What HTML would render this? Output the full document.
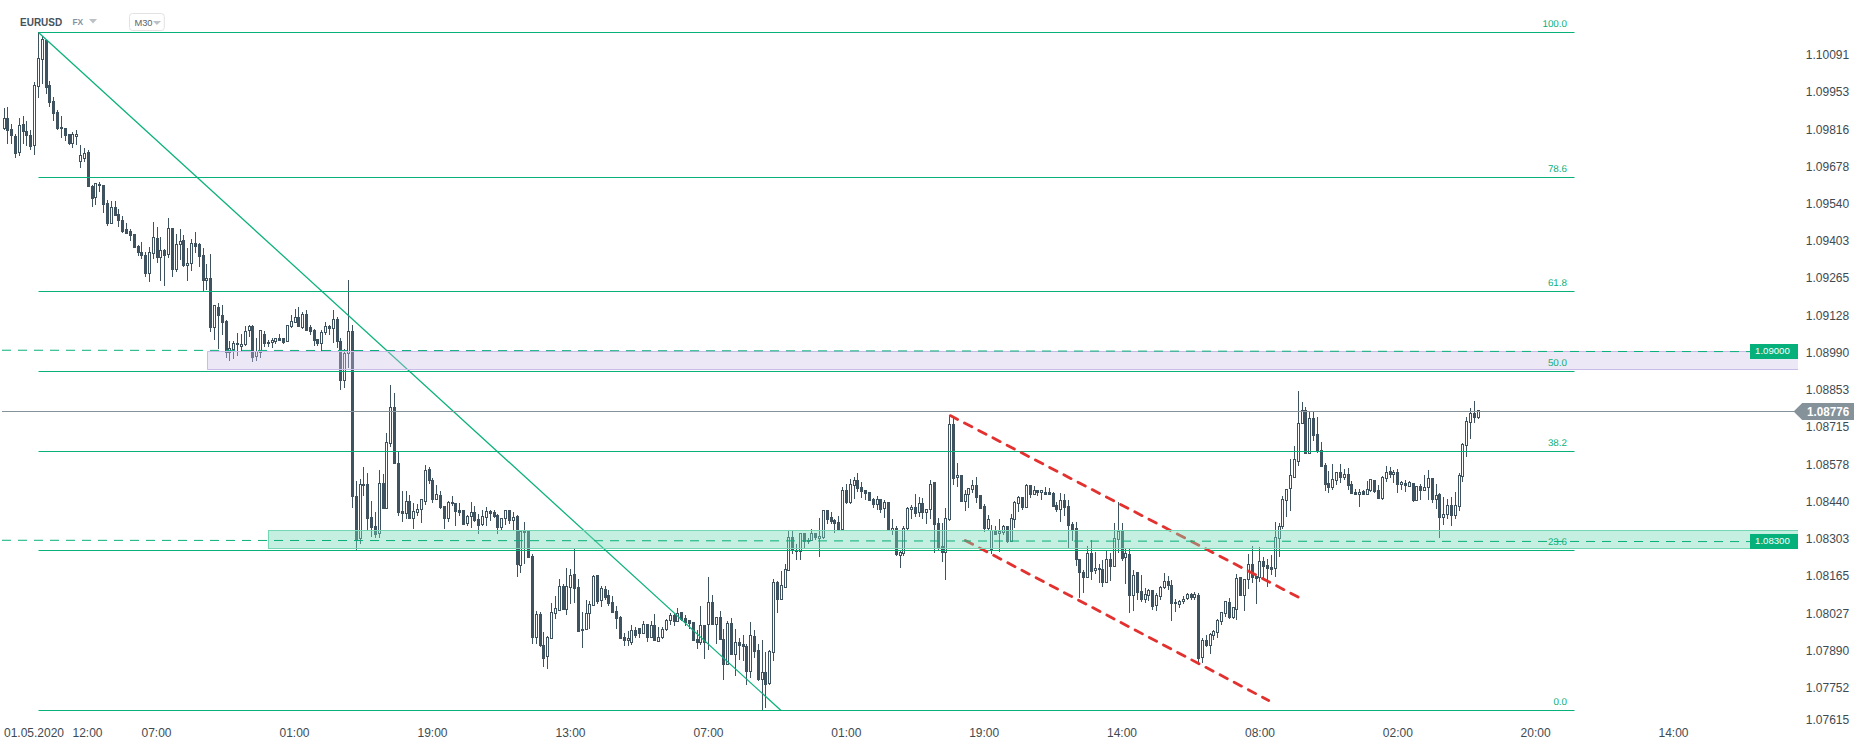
<!DOCTYPE html><html><head><meta charset="utf-8"><title>EURUSD M30</title>
<style>html,body{margin:0;padding:0;background:#fff;}body{width:1866px;height:750px;overflow:hidden;font-family:"Liberation Sans",sans-serif;}svg{display:block;}text{font-family:"Liberation Sans",sans-serif;}</style></head><body>
<svg width="1866" height="750" viewBox="0 0 1866 750">
<rect width="1866" height="750" fill="#fff"/>
<g fill="#3f525f" shape-rendering="crispEdges">
<rect x="4" y="108" width="1" height="22"/>
<rect x="3" y="118" width="3" height="11"/>
<rect x="7" y="107" width="1" height="37"/>
<rect x="6" y="118" width="3" height="13"/>
<rect x="11" y="124" width="1" height="20"/>
<rect x="10" y="129" width="3" height="7"/>
<rect x="15" y="134" width="1" height="24"/>
<rect x="14" y="136" width="3" height="18"/>
<rect x="19" y="118" width="1" height="38"/>
<rect x="18" y="125" width="3" height="28"/>
<rect x="23" y="116" width="1" height="28"/>
<rect x="22" y="124" width="3" height="8"/>
<rect x="26" y="121" width="1" height="25"/>
<rect x="25" y="131" width="3" height="5"/>
<rect x="30" y="130" width="1" height="20"/>
<rect x="29" y="135" width="3" height="12"/>
<rect x="34" y="82" width="1" height="73"/>
<rect x="33" y="85" width="3" height="61"/>
<rect x="38" y="32" width="1" height="66"/>
<rect x="37" y="58" width="3" height="29"/>
<rect x="42" y="36" width="1" height="48"/>
<rect x="41" y="39" width="3" height="21"/>
<rect x="46" y="40" width="1" height="54"/>
<rect x="45" y="40" width="3" height="48"/>
<rect x="49" y="81" width="1" height="26"/>
<rect x="48" y="85" width="3" height="18"/>
<rect x="53" y="97" width="1" height="24"/>
<rect x="52" y="101" width="3" height="13"/>
<rect x="57" y="110" width="1" height="20"/>
<rect x="56" y="112" width="3" height="17"/>
<rect x="61" y="116" width="1" height="22"/>
<rect x="60" y="127" width="3" height="2"/>
<rect x="65" y="128" width="1" height="13"/>
<rect x="64" y="128" width="3" height="8"/>
<rect x="69" y="134" width="1" height="11"/>
<rect x="68" y="134" width="3" height="10"/>
<rect x="72" y="132" width="1" height="16"/>
<rect x="71" y="134" width="3" height="10"/>
<rect x="76" y="130" width="1" height="15"/>
<rect x="75" y="134" width="3" height="3"/>
<rect x="80" y="145" width="1" height="23"/>
<rect x="79" y="155" width="3" height="7"/>
<rect x="84" y="148" width="1" height="14"/>
<rect x="83" y="153" width="3" height="6"/>
<rect x="88" y="150" width="1" height="37"/>
<rect x="87" y="152" width="3" height="35"/>
<rect x="92" y="185" width="1" height="22"/>
<rect x="91" y="186" width="3" height="13"/>
<rect x="95" y="183" width="1" height="22"/>
<rect x="94" y="183" width="3" height="15"/>
<rect x="99" y="182" width="1" height="10"/>
<rect x="98" y="184" width="3" height="2"/>
<rect x="103" y="185" width="1" height="28"/>
<rect x="102" y="185" width="3" height="20"/>
<rect x="107" y="200" width="1" height="26"/>
<rect x="106" y="203" width="3" height="21"/>
<rect x="111" y="201" width="1" height="23"/>
<rect x="110" y="207" width="3" height="17"/>
<rect x="115" y="201" width="1" height="15"/>
<rect x="114" y="207" width="3" height="9"/>
<rect x="118" y="209" width="1" height="18"/>
<rect x="117" y="214" width="3" height="7"/>
<rect x="122" y="216" width="1" height="17"/>
<rect x="121" y="220" width="3" height="12"/>
<rect x="126" y="223" width="1" height="11"/>
<rect x="125" y="229" width="3" height="5"/>
<rect x="130" y="229" width="1" height="12"/>
<rect x="129" y="231" width="3" height="5"/>
<rect x="134" y="234" width="1" height="14"/>
<rect x="133" y="234" width="3" height="14"/>
<rect x="138" y="245" width="1" height="11"/>
<rect x="137" y="246" width="3" height="7"/>
<rect x="141" y="242" width="1" height="17"/>
<rect x="140" y="252" width="3" height="4"/>
<rect x="145" y="252" width="1" height="25"/>
<rect x="144" y="255" width="3" height="19"/>
<rect x="149" y="247" width="1" height="35"/>
<rect x="148" y="252" width="3" height="22"/>
<rect x="153" y="222" width="1" height="37"/>
<rect x="152" y="237" width="3" height="17"/>
<rect x="157" y="227" width="1" height="36"/>
<rect x="156" y="238" width="3" height="20"/>
<rect x="160" y="237" width="1" height="44"/>
<rect x="159" y="250" width="3" height="8"/>
<rect x="164" y="249" width="1" height="37"/>
<rect x="163" y="250" width="3" height="6"/>
<rect x="168" y="218" width="1" height="40"/>
<rect x="167" y="228" width="3" height="27"/>
<rect x="172" y="228" width="1" height="49"/>
<rect x="171" y="228" width="3" height="42"/>
<rect x="176" y="234" width="1" height="38"/>
<rect x="175" y="244" width="3" height="26"/>
<rect x="180" y="229" width="1" height="31"/>
<rect x="179" y="241" width="3" height="4"/>
<rect x="183" y="235" width="1" height="32"/>
<rect x="182" y="240" width="3" height="26"/>
<rect x="187" y="248" width="1" height="33"/>
<rect x="186" y="263" width="3" height="3"/>
<rect x="191" y="239" width="1" height="32"/>
<rect x="190" y="243" width="3" height="21"/>
<rect x="195" y="232" width="1" height="21"/>
<rect x="194" y="243" width="3" height="4"/>
<rect x="199" y="243" width="1" height="24"/>
<rect x="198" y="244" width="3" height="13"/>
<rect x="203" y="248" width="1" height="43"/>
<rect x="202" y="255" width="3" height="26"/>
<rect x="206" y="264" width="1" height="26"/>
<rect x="205" y="278" width="3" height="3"/>
<rect x="210" y="254" width="1" height="78"/>
<rect x="209" y="278" width="3" height="50"/>
<rect x="214" y="305" width="1" height="35"/>
<rect x="213" y="305" width="3" height="23"/>
<rect x="218" y="303" width="1" height="46"/>
<rect x="217" y="307" width="3" height="9"/>
<rect x="222" y="305" width="1" height="30"/>
<rect x="221" y="315" width="3" height="8"/>
<rect x="226" y="320" width="1" height="38"/>
<rect x="225" y="321" width="3" height="32"/>
<rect x="229" y="341" width="1" height="20"/>
<rect x="228" y="348" width="3" height="5"/>
<rect x="233" y="341" width="1" height="18"/>
<rect x="232" y="343" width="3" height="7"/>
<rect x="237" y="333" width="1" height="23"/>
<rect x="236" y="343" width="3" height="2"/>
<rect x="241" y="334" width="1" height="17"/>
<rect x="240" y="344" width="3" height="3"/>
<rect x="245" y="326" width="1" height="20"/>
<rect x="244" y="331" width="3" height="14"/>
<rect x="249" y="325" width="1" height="12"/>
<rect x="248" y="326" width="3" height="5"/>
<rect x="252" y="325" width="1" height="37"/>
<rect x="251" y="326" width="3" height="32"/>
<rect x="256" y="338" width="1" height="23"/>
<rect x="255" y="351" width="3" height="6"/>
<rect x="260" y="330" width="1" height="28"/>
<rect x="259" y="330" width="3" height="23"/>
<rect x="264" y="331" width="1" height="16"/>
<rect x="263" y="334" width="3" height="10"/>
<rect x="268" y="340" width="1" height="7"/>
<rect x="267" y="342" width="3" height="2"/>
<rect x="272" y="338" width="1" height="10"/>
<rect x="271" y="340" width="3" height="3"/>
<rect x="275" y="338" width="1" height="6"/>
<rect x="274" y="338" width="3" height="4"/>
<rect x="279" y="334" width="1" height="7"/>
<rect x="278" y="338" width="3" height="3"/>
<rect x="283" y="338" width="1" height="6"/>
<rect x="282" y="338" width="3" height="5"/>
<rect x="287" y="325" width="1" height="17"/>
<rect x="286" y="325" width="3" height="17"/>
<rect x="291" y="315" width="1" height="13"/>
<rect x="290" y="321" width="3" height="6"/>
<rect x="295" y="309" width="1" height="14"/>
<rect x="294" y="317" width="3" height="6"/>
<rect x="298" y="307" width="1" height="20"/>
<rect x="297" y="317" width="3" height="10"/>
<rect x="302" y="312" width="1" height="17"/>
<rect x="301" y="314" width="3" height="14"/>
<rect x="306" y="310" width="1" height="21"/>
<rect x="305" y="314" width="3" height="17"/>
<rect x="310" y="325" width="1" height="10"/>
<rect x="309" y="327" width="3" height="5"/>
<rect x="314" y="329" width="1" height="17"/>
<rect x="313" y="330" width="3" height="11"/>
<rect x="317" y="339" width="1" height="7"/>
<rect x="316" y="339" width="3" height="5"/>
<rect x="321" y="330" width="1" height="21"/>
<rect x="320" y="332" width="3" height="12"/>
<rect x="325" y="322" width="1" height="13"/>
<rect x="324" y="326" width="3" height="7"/>
<rect x="329" y="325" width="1" height="10"/>
<rect x="328" y="326" width="3" height="3"/>
<rect x="333" y="310" width="1" height="33"/>
<rect x="332" y="319" width="3" height="10"/>
<rect x="337" y="317" width="1" height="31"/>
<rect x="336" y="319" width="3" height="23"/>
<rect x="340" y="338" width="1" height="52"/>
<rect x="339" y="341" width="3" height="40"/>
<rect x="344" y="349" width="1" height="39"/>
<rect x="343" y="353" width="3" height="28"/>
<rect x="348" y="280" width="1" height="88"/>
<rect x="347" y="331" width="3" height="23"/>
<rect x="352" y="325" width="1" height="183"/>
<rect x="351" y="331" width="3" height="166"/>
<rect x="356" y="481" width="1" height="69"/>
<rect x="355" y="496" width="3" height="44"/>
<rect x="360" y="479" width="1" height="65"/>
<rect x="359" y="484" width="3" height="55"/>
<rect x="363" y="467" width="1" height="29"/>
<rect x="362" y="484" width="3" height="2"/>
<rect x="367" y="473" width="1" height="58"/>
<rect x="366" y="484" width="3" height="35"/>
<rect x="371" y="501" width="1" height="36"/>
<rect x="370" y="517" width="3" height="11"/>
<rect x="375" y="512" width="1" height="26"/>
<rect x="374" y="526" width="3" height="9"/>
<rect x="379" y="470" width="1" height="68"/>
<rect x="378" y="483" width="3" height="51"/>
<rect x="383" y="474" width="1" height="35"/>
<rect x="382" y="483" width="3" height="26"/>
<rect x="386" y="433" width="1" height="76"/>
<rect x="385" y="442" width="3" height="67"/>
<rect x="390" y="385" width="1" height="62"/>
<rect x="389" y="407" width="3" height="37"/>
<rect x="394" y="393" width="1" height="71"/>
<rect x="393" y="407" width="3" height="57"/>
<rect x="398" y="452" width="1" height="64"/>
<rect x="397" y="463" width="3" height="50"/>
<rect x="402" y="491" width="1" height="31"/>
<rect x="401" y="511" width="3" height="3"/>
<rect x="406" y="491" width="1" height="28"/>
<rect x="405" y="501" width="3" height="13"/>
<rect x="409" y="495" width="1" height="24"/>
<rect x="408" y="501" width="3" height="18"/>
<rect x="413" y="503" width="1" height="26"/>
<rect x="412" y="511" width="3" height="8"/>
<rect x="417" y="504" width="1" height="12"/>
<rect x="416" y="509" width="3" height="4"/>
<rect x="421" y="499" width="1" height="24"/>
<rect x="420" y="499" width="3" height="11"/>
<rect x="425" y="465" width="1" height="40"/>
<rect x="424" y="470" width="3" height="32"/>
<rect x="429" y="467" width="1" height="17"/>
<rect x="428" y="469" width="3" height="12"/>
<rect x="432" y="478" width="1" height="25"/>
<rect x="431" y="480" width="3" height="20"/>
<rect x="436" y="485" width="1" height="15"/>
<rect x="435" y="494" width="3" height="6"/>
<rect x="440" y="491" width="1" height="18"/>
<rect x="439" y="495" width="3" height="13"/>
<rect x="444" y="506" width="1" height="23"/>
<rect x="443" y="506" width="3" height="13"/>
<rect x="448" y="501" width="1" height="21"/>
<rect x="447" y="502" width="3" height="17"/>
<rect x="452" y="496" width="1" height="10"/>
<rect x="451" y="502" width="3" height="2"/>
<rect x="455" y="503" width="1" height="23"/>
<rect x="454" y="503" width="3" height="9"/>
<rect x="459" y="503" width="1" height="13"/>
<rect x="458" y="510" width="3" height="3"/>
<rect x="463" y="510" width="1" height="15"/>
<rect x="462" y="510" width="3" height="15"/>
<rect x="467" y="515" width="1" height="11"/>
<rect x="466" y="516" width="3" height="8"/>
<rect x="471" y="502" width="1" height="26"/>
<rect x="470" y="512" width="3" height="5"/>
<rect x="474" y="506" width="1" height="16"/>
<rect x="473" y="512" width="3" height="9"/>
<rect x="478" y="514" width="1" height="20"/>
<rect x="477" y="519" width="3" height="7"/>
<rect x="482" y="510" width="1" height="16"/>
<rect x="481" y="516" width="3" height="9"/>
<rect x="486" y="507" width="1" height="19"/>
<rect x="485" y="511" width="3" height="7"/>
<rect x="490" y="510" width="1" height="11"/>
<rect x="489" y="511" width="3" height="3"/>
<rect x="494" y="510" width="1" height="8"/>
<rect x="493" y="512" width="3" height="5"/>
<rect x="497" y="514" width="1" height="20"/>
<rect x="496" y="515" width="3" height="13"/>
<rect x="501" y="518" width="1" height="12"/>
<rect x="500" y="518" width="3" height="10"/>
<rect x="505" y="510" width="1" height="15"/>
<rect x="504" y="510" width="3" height="9"/>
<rect x="509" y="510" width="1" height="14"/>
<rect x="508" y="510" width="3" height="11"/>
<rect x="513" y="512" width="1" height="18"/>
<rect x="512" y="517" width="3" height="4"/>
<rect x="517" y="515" width="1" height="62"/>
<rect x="516" y="516" width="3" height="49"/>
<rect x="520" y="531" width="1" height="42"/>
<rect x="519" y="531" width="3" height="35"/>
<rect x="524" y="522" width="1" height="42"/>
<rect x="523" y="531" width="3" height="2"/>
<rect x="528" y="531" width="1" height="27"/>
<rect x="527" y="531" width="3" height="27"/>
<rect x="532" y="554" width="1" height="90"/>
<rect x="531" y="556" width="3" height="82"/>
<rect x="536" y="611" width="1" height="33"/>
<rect x="535" y="614" width="3" height="24"/>
<rect x="540" y="612" width="1" height="35"/>
<rect x="539" y="614" width="3" height="32"/>
<rect x="543" y="632" width="1" height="35"/>
<rect x="542" y="645" width="3" height="14"/>
<rect x="547" y="636" width="1" height="33"/>
<rect x="546" y="637" width="3" height="20"/>
<rect x="551" y="603" width="1" height="36"/>
<rect x="550" y="612" width="3" height="27"/>
<rect x="555" y="596" width="1" height="23"/>
<rect x="554" y="608" width="3" height="6"/>
<rect x="559" y="579" width="1" height="32"/>
<rect x="558" y="586" width="3" height="25"/>
<rect x="563" y="584" width="1" height="26"/>
<rect x="562" y="586" width="3" height="24"/>
<rect x="566" y="568" width="1" height="47"/>
<rect x="565" y="586" width="3" height="24"/>
<rect x="570" y="569" width="1" height="35"/>
<rect x="569" y="575" width="3" height="13"/>
<rect x="574" y="549" width="1" height="54"/>
<rect x="573" y="574" width="3" height="15"/>
<rect x="578" y="579" width="1" height="53"/>
<rect x="577" y="587" width="3" height="45"/>
<rect x="582" y="612" width="1" height="36"/>
<rect x="581" y="629" width="3" height="2"/>
<rect x="586" y="600" width="1" height="30"/>
<rect x="585" y="613" width="3" height="17"/>
<rect x="589" y="601" width="1" height="28"/>
<rect x="588" y="604" width="3" height="10"/>
<rect x="593" y="575" width="1" height="31"/>
<rect x="592" y="576" width="3" height="30"/>
<rect x="597" y="575" width="1" height="29"/>
<rect x="596" y="575" width="3" height="27"/>
<rect x="601" y="586" width="1" height="21"/>
<rect x="600" y="588" width="3" height="13"/>
<rect x="605" y="586" width="1" height="14"/>
<rect x="604" y="589" width="3" height="9"/>
<rect x="608" y="590" width="1" height="16"/>
<rect x="607" y="595" width="3" height="9"/>
<rect x="612" y="596" width="1" height="17"/>
<rect x="611" y="602" width="3" height="11"/>
<rect x="616" y="606" width="1" height="23"/>
<rect x="615" y="611" width="3" height="8"/>
<rect x="620" y="616" width="1" height="23"/>
<rect x="619" y="617" width="3" height="22"/>
<rect x="624" y="633" width="1" height="13"/>
<rect x="623" y="637" width="3" height="4"/>
<rect x="628" y="631" width="1" height="15"/>
<rect x="627" y="638" width="3" height="3"/>
<rect x="631" y="625" width="1" height="20"/>
<rect x="630" y="630" width="3" height="13"/>
<rect x="635" y="627" width="1" height="11"/>
<rect x="634" y="630" width="3" height="6"/>
<rect x="639" y="628" width="1" height="10"/>
<rect x="638" y="628" width="3" height="6"/>
<rect x="643" y="621" width="1" height="13"/>
<rect x="642" y="624" width="3" height="10"/>
<rect x="647" y="624" width="1" height="18"/>
<rect x="646" y="624" width="3" height="14"/>
<rect x="651" y="621" width="1" height="17"/>
<rect x="650" y="625" width="3" height="13"/>
<rect x="654" y="614" width="1" height="27"/>
<rect x="653" y="625" width="3" height="16"/>
<rect x="658" y="627" width="1" height="15"/>
<rect x="657" y="637" width="3" height="5"/>
<rect x="662" y="627" width="1" height="12"/>
<rect x="661" y="629" width="3" height="9"/>
<rect x="666" y="619" width="1" height="12"/>
<rect x="665" y="620" width="3" height="10"/>
<rect x="670" y="613" width="1" height="12"/>
<rect x="669" y="615" width="3" height="6"/>
<rect x="674" y="614" width="1" height="12"/>
<rect x="673" y="615" width="3" height="7"/>
<rect x="677" y="608" width="1" height="14"/>
<rect x="676" y="613" width="3" height="9"/>
<rect x="681" y="612" width="1" height="9"/>
<rect x="680" y="612" width="3" height="8"/>
<rect x="685" y="615" width="1" height="11"/>
<rect x="684" y="618" width="3" height="5"/>
<rect x="689" y="620" width="1" height="9"/>
<rect x="688" y="620" width="3" height="4"/>
<rect x="693" y="622" width="1" height="19"/>
<rect x="692" y="622" width="3" height="19"/>
<rect x="697" y="630" width="1" height="19"/>
<rect x="696" y="639" width="3" height="4"/>
<rect x="700" y="606" width="1" height="39"/>
<rect x="699" y="625" width="3" height="18"/>
<rect x="704" y="625" width="1" height="34"/>
<rect x="703" y="625" width="3" height="18"/>
<rect x="708" y="577" width="1" height="73"/>
<rect x="707" y="602" width="3" height="23"/>
<rect x="712" y="595" width="1" height="30"/>
<rect x="711" y="602" width="3" height="23"/>
<rect x="716" y="617" width="1" height="27"/>
<rect x="715" y="617" width="3" height="8"/>
<rect x="720" y="611" width="1" height="29"/>
<rect x="719" y="617" width="3" height="23"/>
<rect x="723" y="629" width="1" height="51"/>
<rect x="722" y="639" width="3" height="26"/>
<rect x="727" y="621" width="1" height="44"/>
<rect x="726" y="623" width="3" height="42"/>
<rect x="731" y="618" width="1" height="37"/>
<rect x="730" y="623" width="3" height="32"/>
<rect x="735" y="629" width="1" height="47"/>
<rect x="734" y="642" width="3" height="13"/>
<rect x="739" y="638" width="1" height="22"/>
<rect x="738" y="642" width="3" height="4"/>
<rect x="743" y="635" width="1" height="26"/>
<rect x="742" y="644" width="3" height="3"/>
<rect x="746" y="644" width="1" height="41"/>
<rect x="745" y="646" width="3" height="26"/>
<rect x="750" y="622" width="1" height="56"/>
<rect x="749" y="635" width="3" height="37"/>
<rect x="754" y="630" width="1" height="28"/>
<rect x="753" y="636" width="3" height="16"/>
<rect x="758" y="644" width="1" height="37"/>
<rect x="757" y="650" width="3" height="30"/>
<rect x="762" y="640" width="1" height="70"/>
<rect x="761" y="672" width="3" height="8"/>
<rect x="765" y="652" width="1" height="56"/>
<rect x="764" y="672" width="3" height="13"/>
<rect x="769" y="650" width="1" height="35"/>
<rect x="768" y="651" width="3" height="33"/>
<rect x="773" y="579" width="1" height="82"/>
<rect x="772" y="582" width="3" height="71"/>
<rect x="777" y="581" width="1" height="32"/>
<rect x="776" y="582" width="3" height="18"/>
<rect x="781" y="571" width="1" height="29"/>
<rect x="780" y="585" width="3" height="15"/>
<rect x="785" y="564" width="1" height="24"/>
<rect x="784" y="569" width="3" height="19"/>
<rect x="788" y="531" width="1" height="40"/>
<rect x="787" y="537" width="3" height="34"/>
<rect x="792" y="531" width="1" height="23"/>
<rect x="791" y="537" width="3" height="14"/>
<rect x="796" y="544" width="1" height="16"/>
<rect x="795" y="551" width="3" height="1"/>
<rect x="800" y="533" width="1" height="27"/>
<rect x="799" y="533" width="3" height="19"/>
<rect x="804" y="533" width="1" height="15"/>
<rect x="803" y="533" width="3" height="9"/>
<rect x="808" y="538" width="1" height="6"/>
<rect x="807" y="540" width="3" height="2"/>
<rect x="811" y="529" width="1" height="12"/>
<rect x="810" y="533" width="3" height="8"/>
<rect x="815" y="533" width="1" height="7"/>
<rect x="814" y="533" width="3" height="5"/>
<rect x="819" y="518" width="1" height="39"/>
<rect x="818" y="536" width="3" height="3"/>
<rect x="823" y="510" width="1" height="29"/>
<rect x="822" y="510" width="3" height="28"/>
<rect x="827" y="510" width="1" height="14"/>
<rect x="826" y="510" width="3" height="10"/>
<rect x="831" y="512" width="1" height="12"/>
<rect x="830" y="517" width="3" height="5"/>
<rect x="834" y="519" width="1" height="14"/>
<rect x="833" y="520" width="3" height="4"/>
<rect x="838" y="516" width="1" height="14"/>
<rect x="837" y="522" width="3" height="8"/>
<rect x="842" y="487" width="1" height="43"/>
<rect x="841" y="490" width="3" height="40"/>
<rect x="846" y="484" width="1" height="20"/>
<rect x="845" y="490" width="3" height="13"/>
<rect x="850" y="479" width="1" height="25"/>
<rect x="849" y="484" width="3" height="19"/>
<rect x="854" y="477" width="1" height="22"/>
<rect x="853" y="480" width="3" height="6"/>
<rect x="857" y="473" width="1" height="19"/>
<rect x="856" y="480" width="3" height="9"/>
<rect x="861" y="482" width="1" height="16"/>
<rect x="860" y="487" width="3" height="5"/>
<rect x="865" y="490" width="1" height="10"/>
<rect x="864" y="490" width="3" height="4"/>
<rect x="869" y="492" width="1" height="9"/>
<rect x="868" y="492" width="3" height="9"/>
<rect x="873" y="498" width="1" height="10"/>
<rect x="872" y="499" width="3" height="6"/>
<rect x="877" y="496" width="1" height="14"/>
<rect x="876" y="499" width="3" height="6"/>
<rect x="880" y="499" width="1" height="14"/>
<rect x="879" y="499" width="3" height="11"/>
<rect x="884" y="500" width="1" height="18"/>
<rect x="883" y="502" width="3" height="7"/>
<rect x="888" y="502" width="1" height="28"/>
<rect x="887" y="502" width="3" height="28"/>
<rect x="892" y="519" width="1" height="16"/>
<rect x="891" y="528" width="3" height="3"/>
<rect x="896" y="526" width="1" height="30"/>
<rect x="895" y="528" width="3" height="27"/>
<rect x="900" y="551" width="1" height="17"/>
<rect x="899" y="552" width="3" height="4"/>
<rect x="903" y="526" width="1" height="30"/>
<rect x="902" y="528" width="3" height="26"/>
<rect x="907" y="507" width="1" height="23"/>
<rect x="906" y="508" width="3" height="21"/>
<rect x="911" y="505" width="1" height="14"/>
<rect x="910" y="507" width="3" height="3"/>
<rect x="915" y="494" width="1" height="23"/>
<rect x="914" y="507" width="3" height="7"/>
<rect x="919" y="497" width="1" height="20"/>
<rect x="918" y="503" width="3" height="10"/>
<rect x="922" y="498" width="1" height="21"/>
<rect x="921" y="503" width="3" height="10"/>
<rect x="926" y="509" width="1" height="15"/>
<rect x="925" y="509" width="3" height="4"/>
<rect x="930" y="480" width="1" height="39"/>
<rect x="929" y="484" width="3" height="26"/>
<rect x="934" y="482" width="1" height="71"/>
<rect x="933" y="482" width="3" height="43"/>
<rect x="938" y="518" width="1" height="32"/>
<rect x="937" y="523" width="3" height="25"/>
<rect x="942" y="523" width="1" height="39"/>
<rect x="941" y="546" width="3" height="7"/>
<rect x="945" y="508" width="1" height="72"/>
<rect x="944" y="518" width="3" height="35"/>
<rect x="949" y="415" width="1" height="106"/>
<rect x="948" y="424" width="3" height="96"/>
<rect x="953" y="418" width="1" height="67"/>
<rect x="952" y="424" width="3" height="55"/>
<rect x="957" y="463" width="1" height="24"/>
<rect x="956" y="475" width="3" height="3"/>
<rect x="961" y="475" width="1" height="27"/>
<rect x="960" y="475" width="3" height="27"/>
<rect x="965" y="490" width="1" height="21"/>
<rect x="964" y="494" width="3" height="8"/>
<rect x="968" y="488" width="1" height="20"/>
<rect x="967" y="488" width="3" height="7"/>
<rect x="972" y="480" width="1" height="13"/>
<rect x="971" y="485" width="3" height="5"/>
<rect x="976" y="477" width="1" height="26"/>
<rect x="975" y="485" width="3" height="13"/>
<rect x="980" y="495" width="1" height="14"/>
<rect x="979" y="495" width="3" height="14"/>
<rect x="984" y="504" width="1" height="28"/>
<rect x="983" y="506" width="3" height="23"/>
<rect x="988" y="515" width="1" height="15"/>
<rect x="987" y="519" width="3" height="10"/>
<rect x="991" y="525" width="1" height="29"/>
<rect x="990" y="530" width="3" height="20"/>
<rect x="995" y="526" width="1" height="9"/>
<rect x="994" y="531" width="3" height="4"/>
<rect x="999" y="519" width="1" height="33"/>
<rect x="998" y="531" width="3" height="3"/>
<rect x="1003" y="525" width="1" height="10"/>
<rect x="1002" y="526" width="3" height="7"/>
<rect x="1007" y="526" width="1" height="17"/>
<rect x="1006" y="526" width="3" height="16"/>
<rect x="1011" y="514" width="1" height="28"/>
<rect x="1010" y="518" width="3" height="24"/>
<rect x="1014" y="501" width="1" height="27"/>
<rect x="1013" y="502" width="3" height="18"/>
<rect x="1018" y="496" width="1" height="16"/>
<rect x="1017" y="497" width="3" height="7"/>
<rect x="1022" y="497" width="1" height="13"/>
<rect x="1021" y="497" width="3" height="11"/>
<rect x="1026" y="484" width="1" height="24"/>
<rect x="1025" y="485" width="3" height="23"/>
<rect x="1030" y="485" width="1" height="13"/>
<rect x="1029" y="485" width="3" height="10"/>
<rect x="1034" y="486" width="1" height="9"/>
<rect x="1033" y="490" width="3" height="5"/>
<rect x="1037" y="490" width="1" height="6"/>
<rect x="1036" y="490" width="3" height="3"/>
<rect x="1041" y="490" width="1" height="10"/>
<rect x="1040" y="490" width="3" height="3"/>
<rect x="1045" y="487" width="1" height="8"/>
<rect x="1044" y="492" width="3" height="3"/>
<rect x="1049" y="488" width="1" height="7"/>
<rect x="1048" y="492" width="3" height="3"/>
<rect x="1053" y="492" width="1" height="15"/>
<rect x="1052" y="493" width="3" height="14"/>
<rect x="1056" y="502" width="1" height="10"/>
<rect x="1055" y="505" width="3" height="5"/>
<rect x="1060" y="493" width="1" height="29"/>
<rect x="1059" y="500" width="3" height="10"/>
<rect x="1064" y="494" width="1" height="22"/>
<rect x="1063" y="500" width="3" height="8"/>
<rect x="1068" y="500" width="1" height="48"/>
<rect x="1067" y="506" width="3" height="20"/>
<rect x="1072" y="522" width="1" height="19"/>
<rect x="1071" y="524" width="3" height="6"/>
<rect x="1076" y="522" width="1" height="44"/>
<rect x="1075" y="528" width="3" height="32"/>
<rect x="1079" y="559" width="1" height="39"/>
<rect x="1078" y="559" width="3" height="14"/>
<rect x="1083" y="570" width="1" height="23"/>
<rect x="1082" y="572" width="3" height="6"/>
<rect x="1087" y="546" width="1" height="32"/>
<rect x="1086" y="553" width="3" height="25"/>
<rect x="1091" y="540" width="1" height="40"/>
<rect x="1090" y="553" width="3" height="19"/>
<rect x="1095" y="552" width="1" height="22"/>
<rect x="1094" y="568" width="3" height="3"/>
<rect x="1099" y="564" width="1" height="19"/>
<rect x="1098" y="568" width="3" height="2"/>
<rect x="1102" y="560" width="1" height="27"/>
<rect x="1101" y="569" width="3" height="14"/>
<rect x="1106" y="551" width="1" height="32"/>
<rect x="1105" y="559" width="3" height="24"/>
<rect x="1110" y="553" width="1" height="28"/>
<rect x="1109" y="559" width="3" height="8"/>
<rect x="1114" y="523" width="1" height="44"/>
<rect x="1113" y="538" width="3" height="29"/>
<rect x="1118" y="502" width="1" height="51"/>
<rect x="1117" y="531" width="3" height="9"/>
<rect x="1122" y="523" width="1" height="38"/>
<rect x="1121" y="531" width="3" height="28"/>
<rect x="1125" y="548" width="1" height="36"/>
<rect x="1124" y="553" width="3" height="5"/>
<rect x="1129" y="549" width="1" height="64"/>
<rect x="1128" y="554" width="3" height="42"/>
<rect x="1133" y="570" width="1" height="41"/>
<rect x="1132" y="575" width="3" height="21"/>
<rect x="1137" y="572" width="1" height="28"/>
<rect x="1136" y="572" width="3" height="21"/>
<rect x="1141" y="575" width="1" height="27"/>
<rect x="1140" y="591" width="3" height="9"/>
<rect x="1145" y="588" width="1" height="15"/>
<rect x="1144" y="594" width="3" height="6"/>
<rect x="1148" y="589" width="1" height="12"/>
<rect x="1147" y="590" width="3" height="6"/>
<rect x="1152" y="590" width="1" height="20"/>
<rect x="1151" y="590" width="3" height="17"/>
<rect x="1156" y="593" width="1" height="18"/>
<rect x="1155" y="595" width="3" height="11"/>
<rect x="1160" y="586" width="1" height="14"/>
<rect x="1159" y="587" width="3" height="10"/>
<rect x="1164" y="573" width="1" height="16"/>
<rect x="1163" y="581" width="3" height="7"/>
<rect x="1168" y="576" width="1" height="14"/>
<rect x="1167" y="581" width="3" height="5"/>
<rect x="1171" y="580" width="1" height="41"/>
<rect x="1170" y="585" width="3" height="19"/>
<rect x="1175" y="599" width="1" height="13"/>
<rect x="1174" y="602" width="3" height="2"/>
<rect x="1179" y="600" width="1" height="8"/>
<rect x="1178" y="601" width="3" height="4"/>
<rect x="1183" y="596" width="1" height="8"/>
<rect x="1182" y="599" width="3" height="3"/>
<rect x="1187" y="593" width="1" height="7"/>
<rect x="1186" y="594" width="3" height="5"/>
<rect x="1191" y="593" width="1" height="7"/>
<rect x="1190" y="594" width="3" height="4"/>
<rect x="1194" y="592" width="1" height="8"/>
<rect x="1193" y="594" width="3" height="4"/>
<rect x="1198" y="593" width="1" height="72"/>
<rect x="1197" y="595" width="3" height="64"/>
<rect x="1202" y="638" width="1" height="25"/>
<rect x="1201" y="640" width="3" height="18"/>
<rect x="1206" y="635" width="1" height="12"/>
<rect x="1205" y="640" width="3" height="6"/>
<rect x="1210" y="633" width="1" height="21"/>
<rect x="1209" y="634" width="3" height="12"/>
<rect x="1213" y="630" width="1" height="10"/>
<rect x="1212" y="631" width="3" height="5"/>
<rect x="1217" y="619" width="1" height="19"/>
<rect x="1216" y="620" width="3" height="13"/>
<rect x="1221" y="612" width="1" height="13"/>
<rect x="1220" y="612" width="3" height="10"/>
<rect x="1225" y="601" width="1" height="16"/>
<rect x="1224" y="601" width="3" height="13"/>
<rect x="1229" y="598" width="1" height="21"/>
<rect x="1228" y="602" width="3" height="16"/>
<rect x="1233" y="607" width="1" height="12"/>
<rect x="1232" y="607" width="3" height="11"/>
<rect x="1236" y="574" width="1" height="46"/>
<rect x="1235" y="578" width="3" height="32"/>
<rect x="1240" y="577" width="1" height="19"/>
<rect x="1239" y="577" width="3" height="19"/>
<rect x="1244" y="579" width="1" height="32"/>
<rect x="1243" y="579" width="3" height="17"/>
<rect x="1248" y="554" width="1" height="35"/>
<rect x="1247" y="564" width="3" height="16"/>
<rect x="1252" y="546" width="1" height="37"/>
<rect x="1251" y="564" width="3" height="14"/>
<rect x="1256" y="576" width="1" height="28"/>
<rect x="1255" y="576" width="3" height="3"/>
<rect x="1259" y="547" width="1" height="35"/>
<rect x="1258" y="561" width="3" height="17"/>
<rect x="1263" y="557" width="1" height="22"/>
<rect x="1262" y="561" width="3" height="6"/>
<rect x="1267" y="559" width="1" height="28"/>
<rect x="1266" y="565" width="3" height="4"/>
<rect x="1271" y="555" width="1" height="20"/>
<rect x="1270" y="567" width="3" height="3"/>
<rect x="1275" y="522" width="1" height="55"/>
<rect x="1274" y="537" width="3" height="32"/>
<rect x="1279" y="523" width="1" height="34"/>
<rect x="1278" y="526" width="3" height="13"/>
<rect x="1282" y="496" width="1" height="33"/>
<rect x="1281" y="499" width="3" height="28"/>
<rect x="1286" y="489" width="1" height="28"/>
<rect x="1285" y="489" width="3" height="12"/>
<rect x="1290" y="459" width="1" height="52"/>
<rect x="1289" y="475" width="3" height="14"/>
<rect x="1294" y="446" width="1" height="32"/>
<rect x="1293" y="459" width="3" height="19"/>
<rect x="1298" y="391" width="1" height="75"/>
<rect x="1297" y="423" width="3" height="39"/>
<rect x="1302" y="402" width="1" height="22"/>
<rect x="1301" y="410" width="3" height="14"/>
<rect x="1305" y="407" width="1" height="47"/>
<rect x="1304" y="410" width="3" height="44"/>
<rect x="1309" y="411" width="1" height="43"/>
<rect x="1308" y="418" width="3" height="36"/>
<rect x="1313" y="411" width="1" height="30"/>
<rect x="1312" y="418" width="3" height="18"/>
<rect x="1317" y="417" width="1" height="36"/>
<rect x="1316" y="434" width="3" height="18"/>
<rect x="1321" y="442" width="1" height="25"/>
<rect x="1320" y="450" width="3" height="17"/>
<rect x="1325" y="463" width="1" height="28"/>
<rect x="1324" y="465" width="3" height="20"/>
<rect x="1328" y="471" width="1" height="22"/>
<rect x="1327" y="483" width="3" height="5"/>
<rect x="1332" y="464" width="1" height="26"/>
<rect x="1331" y="479" width="3" height="9"/>
<rect x="1336" y="472" width="1" height="13"/>
<rect x="1335" y="472" width="3" height="9"/>
<rect x="1340" y="464" width="1" height="19"/>
<rect x="1339" y="472" width="3" height="6"/>
<rect x="1344" y="469" width="1" height="11"/>
<rect x="1343" y="474" width="3" height="4"/>
<rect x="1348" y="468" width="1" height="22"/>
<rect x="1347" y="474" width="3" height="12"/>
<rect x="1351" y="481" width="1" height="13"/>
<rect x="1350" y="484" width="3" height="10"/>
<rect x="1355" y="489" width="1" height="6"/>
<rect x="1354" y="492" width="3" height="3"/>
<rect x="1359" y="489" width="1" height="18"/>
<rect x="1358" y="492" width="3" height="3"/>
<rect x="1363" y="490" width="1" height="5"/>
<rect x="1362" y="491" width="3" height="4"/>
<rect x="1367" y="481" width="1" height="14"/>
<rect x="1366" y="489" width="3" height="6"/>
<rect x="1370" y="479" width="1" height="13"/>
<rect x="1369" y="479" width="3" height="12"/>
<rect x="1374" y="480" width="1" height="13"/>
<rect x="1373" y="480" width="3" height="12"/>
<rect x="1378" y="485" width="1" height="14"/>
<rect x="1377" y="490" width="3" height="9"/>
<rect x="1382" y="476" width="1" height="24"/>
<rect x="1381" y="477" width="3" height="22"/>
<rect x="1386" y="466" width="1" height="16"/>
<rect x="1385" y="472" width="3" height="7"/>
<rect x="1390" y="467" width="1" height="11"/>
<rect x="1389" y="471" width="3" height="4"/>
<rect x="1393" y="470" width="1" height="13"/>
<rect x="1392" y="472" width="3" height="3"/>
<rect x="1397" y="469" width="1" height="24"/>
<rect x="1396" y="472" width="3" height="13"/>
<rect x="1401" y="481" width="1" height="9"/>
<rect x="1400" y="482" width="3" height="3"/>
<rect x="1405" y="480" width="1" height="12"/>
<rect x="1404" y="483" width="3" height="3"/>
<rect x="1409" y="481" width="1" height="6"/>
<rect x="1408" y="482" width="3" height="5"/>
<rect x="1413" y="483" width="1" height="19"/>
<rect x="1412" y="483" width="3" height="18"/>
<rect x="1416" y="486" width="1" height="15"/>
<rect x="1415" y="486" width="3" height="15"/>
<rect x="1420" y="484" width="1" height="16"/>
<rect x="1419" y="486" width="3" height="5"/>
<rect x="1424" y="475" width="1" height="16"/>
<rect x="1423" y="487" width="3" height="4"/>
<rect x="1428" y="470" width="1" height="30"/>
<rect x="1427" y="478" width="3" height="10"/>
<rect x="1432" y="478" width="1" height="25"/>
<rect x="1431" y="478" width="3" height="22"/>
<rect x="1436" y="484" width="1" height="25"/>
<rect x="1435" y="495" width="3" height="5"/>
<rect x="1439" y="493" width="1" height="45"/>
<rect x="1438" y="494" width="3" height="24"/>
<rect x="1443" y="497" width="1" height="28"/>
<rect x="1442" y="514" width="3" height="4"/>
<rect x="1447" y="499" width="1" height="20"/>
<rect x="1446" y="505" width="3" height="10"/>
<rect x="1451" y="497" width="1" height="29"/>
<rect x="1450" y="505" width="3" height="11"/>
<rect x="1455" y="492" width="1" height="27"/>
<rect x="1454" y="505" width="3" height="11"/>
<rect x="1459" y="473" width="1" height="38"/>
<rect x="1458" y="475" width="3" height="32"/>
<rect x="1462" y="443" width="1" height="39"/>
<rect x="1461" y="444" width="3" height="33"/>
<rect x="1466" y="417" width="1" height="40"/>
<rect x="1465" y="421" width="3" height="25"/>
<rect x="1470" y="408" width="1" height="31"/>
<rect x="1469" y="413" width="3" height="10"/>
<rect x="1474" y="401" width="1" height="22"/>
<rect x="1473" y="413" width="3" height="5"/>
<rect x="1478" y="410" width="1" height="9"/>
<rect x="1477" y="410" width="3" height="8"/>
</g>
<g fill="#fff" shape-rendering="crispEdges"><rect x="4" y="119" width="1" height="9"/><rect x="19" y="126" width="1" height="26"/><rect x="34" y="86" width="1" height="59"/><rect x="38" y="59" width="1" height="27"/><rect x="42" y="40" width="1" height="19"/><rect x="72" y="135" width="1" height="8"/><rect x="76" y="135" width="1" height="1"/><rect x="80" y="156" width="1" height="5"/><rect x="84" y="154" width="1" height="4"/><rect x="95" y="184" width="1" height="13"/><rect x="111" y="208" width="1" height="15"/><rect x="149" y="253" width="1" height="20"/><rect x="153" y="238" width="1" height="15"/><rect x="160" y="251" width="1" height="6"/><rect x="168" y="229" width="1" height="25"/><rect x="176" y="245" width="1" height="24"/><rect x="180" y="242" width="1" height="2"/><rect x="187" y="264" width="1" height="1"/><rect x="191" y="244" width="1" height="19"/><rect x="206" y="279" width="1" height="1"/><rect x="214" y="306" width="1" height="21"/><rect x="229" y="349" width="1" height="3"/><rect x="233" y="344" width="1" height="5"/><rect x="241" y="345" width="1" height="1"/><rect x="245" y="332" width="1" height="12"/><rect x="249" y="327" width="1" height="3"/><rect x="256" y="352" width="1" height="4"/><rect x="260" y="331" width="1" height="21"/><rect x="272" y="341" width="1" height="1"/><rect x="275" y="339" width="1" height="2"/><rect x="287" y="326" width="1" height="15"/><rect x="291" y="322" width="1" height="4"/><rect x="295" y="318" width="1" height="4"/><rect x="302" y="315" width="1" height="12"/><rect x="321" y="333" width="1" height="10"/><rect x="325" y="327" width="1" height="5"/><rect x="333" y="320" width="1" height="8"/><rect x="344" y="354" width="1" height="26"/><rect x="348" y="332" width="1" height="21"/><rect x="360" y="485" width="1" height="53"/><rect x="379" y="484" width="1" height="49"/><rect x="386" y="443" width="1" height="65"/><rect x="390" y="408" width="1" height="35"/><rect x="406" y="502" width="1" height="11"/><rect x="413" y="512" width="1" height="6"/><rect x="417" y="510" width="1" height="2"/><rect x="421" y="500" width="1" height="9"/><rect x="425" y="471" width="1" height="30"/><rect x="436" y="495" width="1" height="4"/><rect x="448" y="503" width="1" height="15"/><rect x="467" y="517" width="1" height="6"/><rect x="471" y="513" width="1" height="3"/><rect x="482" y="517" width="1" height="7"/><rect x="486" y="512" width="1" height="5"/><rect x="501" y="519" width="1" height="8"/><rect x="505" y="511" width="1" height="7"/><rect x="513" y="518" width="1" height="2"/><rect x="520" y="532" width="1" height="33"/><rect x="536" y="615" width="1" height="22"/><rect x="547" y="638" width="1" height="18"/><rect x="551" y="613" width="1" height="25"/><rect x="555" y="609" width="1" height="4"/><rect x="559" y="587" width="1" height="23"/><rect x="566" y="587" width="1" height="22"/><rect x="570" y="576" width="1" height="11"/><rect x="586" y="614" width="1" height="15"/><rect x="589" y="605" width="1" height="8"/><rect x="593" y="577" width="1" height="28"/><rect x="601" y="589" width="1" height="11"/><rect x="628" y="639" width="1" height="1"/><rect x="631" y="631" width="1" height="11"/><rect x="643" y="625" width="1" height="8"/><rect x="651" y="626" width="1" height="11"/><rect x="658" y="638" width="1" height="3"/><rect x="662" y="630" width="1" height="7"/><rect x="666" y="621" width="1" height="8"/><rect x="670" y="616" width="1" height="4"/><rect x="677" y="614" width="1" height="7"/><rect x="700" y="626" width="1" height="16"/><rect x="708" y="603" width="1" height="21"/><rect x="716" y="618" width="1" height="6"/><rect x="727" y="624" width="1" height="40"/><rect x="735" y="643" width="1" height="11"/><rect x="750" y="636" width="1" height="35"/><rect x="762" y="673" width="1" height="6"/><rect x="769" y="652" width="1" height="31"/><rect x="773" y="583" width="1" height="69"/><rect x="781" y="586" width="1" height="13"/><rect x="785" y="570" width="1" height="17"/><rect x="788" y="538" width="1" height="32"/><rect x="800" y="534" width="1" height="17"/><rect x="811" y="534" width="1" height="6"/><rect x="819" y="537" width="1" height="1"/><rect x="823" y="511" width="1" height="26"/><rect x="842" y="491" width="1" height="38"/><rect x="850" y="485" width="1" height="17"/><rect x="854" y="481" width="1" height="4"/><rect x="877" y="500" width="1" height="4"/><rect x="884" y="503" width="1" height="5"/><rect x="892" y="529" width="1" height="1"/><rect x="900" y="553" width="1" height="2"/><rect x="903" y="529" width="1" height="24"/><rect x="907" y="509" width="1" height="19"/><rect x="911" y="508" width="1" height="1"/><rect x="919" y="504" width="1" height="8"/><rect x="926" y="510" width="1" height="2"/><rect x="930" y="485" width="1" height="24"/><rect x="945" y="519" width="1" height="33"/><rect x="949" y="425" width="1" height="94"/><rect x="957" y="476" width="1" height="1"/><rect x="965" y="495" width="1" height="6"/><rect x="968" y="489" width="1" height="5"/><rect x="972" y="486" width="1" height="3"/><rect x="988" y="520" width="1" height="8"/><rect x="991" y="531" width="1" height="18"/><rect x="999" y="532" width="1" height="1"/><rect x="1003" y="527" width="1" height="5"/><rect x="1011" y="519" width="1" height="22"/><rect x="1014" y="503" width="1" height="16"/><rect x="1018" y="498" width="1" height="5"/><rect x="1026" y="486" width="1" height="21"/><rect x="1034" y="491" width="1" height="3"/><rect x="1041" y="491" width="1" height="1"/><rect x="1060" y="501" width="1" height="8"/><rect x="1087" y="554" width="1" height="23"/><rect x="1095" y="569" width="1" height="1"/><rect x="1106" y="560" width="1" height="22"/><rect x="1114" y="539" width="1" height="27"/><rect x="1118" y="532" width="1" height="7"/><rect x="1125" y="554" width="1" height="3"/><rect x="1133" y="576" width="1" height="19"/><rect x="1145" y="595" width="1" height="4"/><rect x="1148" y="591" width="1" height="4"/><rect x="1156" y="596" width="1" height="9"/><rect x="1160" y="588" width="1" height="8"/><rect x="1164" y="582" width="1" height="5"/><rect x="1179" y="602" width="1" height="2"/><rect x="1183" y="600" width="1" height="1"/><rect x="1187" y="595" width="1" height="3"/><rect x="1194" y="595" width="1" height="2"/><rect x="1202" y="641" width="1" height="16"/><rect x="1210" y="635" width="1" height="10"/><rect x="1213" y="632" width="1" height="3"/><rect x="1217" y="621" width="1" height="11"/><rect x="1221" y="613" width="1" height="8"/><rect x="1225" y="602" width="1" height="11"/><rect x="1233" y="608" width="1" height="9"/><rect x="1236" y="579" width="1" height="30"/><rect x="1244" y="580" width="1" height="15"/><rect x="1248" y="565" width="1" height="14"/><rect x="1259" y="562" width="1" height="15"/><rect x="1275" y="538" width="1" height="30"/><rect x="1279" y="527" width="1" height="11"/><rect x="1282" y="500" width="1" height="26"/><rect x="1286" y="490" width="1" height="10"/><rect x="1290" y="476" width="1" height="12"/><rect x="1294" y="460" width="1" height="17"/><rect x="1298" y="424" width="1" height="37"/><rect x="1302" y="411" width="1" height="12"/><rect x="1309" y="419" width="1" height="34"/><rect x="1332" y="480" width="1" height="7"/><rect x="1336" y="473" width="1" height="7"/><rect x="1344" y="475" width="1" height="2"/><rect x="1359" y="493" width="1" height="1"/><rect x="1367" y="490" width="1" height="4"/><rect x="1370" y="480" width="1" height="10"/><rect x="1382" y="478" width="1" height="20"/><rect x="1386" y="473" width="1" height="5"/><rect x="1393" y="473" width="1" height="1"/><rect x="1401" y="483" width="1" height="1"/><rect x="1409" y="483" width="1" height="3"/><rect x="1416" y="487" width="1" height="13"/><rect x="1424" y="488" width="1" height="2"/><rect x="1428" y="479" width="1" height="8"/><rect x="1436" y="496" width="1" height="3"/><rect x="1443" y="515" width="1" height="2"/><rect x="1447" y="506" width="1" height="8"/><rect x="1455" y="506" width="1" height="9"/><rect x="1459" y="476" width="1" height="30"/><rect x="1462" y="445" width="1" height="31"/><rect x="1466" y="422" width="1" height="23"/><rect x="1470" y="414" width="1" height="8"/><rect x="1478" y="411" width="1" height="6"/></g>
<g stroke="#08b07a" stroke-width="1" fill="none">
<line x1="38.5" y1="32.5" x2="1574.5" y2="32.5"/>
<line x1="38.5" y1="177.5" x2="1574.5" y2="177.5"/>
<line x1="38.5" y1="291.5" x2="1574.5" y2="291.5"/>
<line x1="38.5" y1="371.5" x2="1574.5" y2="371.5"/>
<line x1="38.5" y1="451.5" x2="1574.5" y2="451.5"/>
<line x1="38.5" y1="550.5" x2="1574.5" y2="550.5"/>
<line x1="38.5" y1="710.5" x2="1574.5" y2="710.5"/>
<line x1="38.5" y1="32.5" x2="781" y2="710.5" stroke-width="1.25"/>
</g>
<line x1="2" y1="411.5" x2="1800" y2="411.5" stroke="#86929a" stroke-width="1"/>
<g stroke="#e2312e" stroke-width="2.8" stroke-dasharray="8.3 7.7" stroke-linecap="round" fill="none">
<line x1="950.3" y1="415.6" x2="1298.6" y2="597.3"/>
<line x1="965.3" y1="540.4" x2="1268.7" y2="700.5"/>
</g>
<rect x="207" y="351" width="1591" height="19" fill="rgba(204,193,231,0.37)"/>
<path d="M1798,351.5 H207.5 V369.5 H1798" fill="none" stroke="#c9bde8" stroke-width="1"/>
<rect x="268" y="530" width="1530" height="19" fill="rgba(117,217,184,0.42)"/>
<path d="M1798,530.5 H268.5 V548.5 H1798" fill="none" stroke="#74d6b2" stroke-width="1.1"/>
<g stroke="#08b07a" stroke-width="1" stroke-dasharray="9 7" fill="none">
<line x1="2" y1="350.22" x2="1750" y2="351.6"/>
<line x1="2" y1="540.26" x2="1750" y2="541.59"/>
</g>
<g fill="#08b07a" font-size="9.8" text-anchor="end" text-rendering="geometricPrecision">
<text transform="translate(1567,27.0) scale(1,1)" x="0" y="0">100.0</text>
<text transform="translate(1567,172.0) scale(1,1)" x="0" y="0">78.6</text>
<text transform="translate(1567,286.0) scale(1,1)" x="0" y="0">61.8</text>
<text transform="translate(1567,366.0) scale(1,1)" x="0" y="0">50.0</text>
<text transform="translate(1567,446.0) scale(1,1)" x="0" y="0">38.2</text>
<text transform="translate(1567,545.0) scale(1,1)" x="0" y="0">23.6</text>
<text transform="translate(1567,705.0) scale(1,1)" x="0" y="0">0.0</text>
</g>
<g fill="#3e4a52" font-size="12" text-anchor="end">
<text x="1849.2" y="59.0">1.10091</text>
<text x="1849.2" y="96.2">1.09953</text>
<text x="1849.2" y="133.5">1.09816</text>
<text x="1849.2" y="170.7">1.09678</text>
<text x="1849.2" y="207.9">1.09540</text>
<text x="1849.2" y="245.2">1.09403</text>
<text x="1849.2" y="282.4">1.09265</text>
<text x="1849.2" y="319.6">1.09128</text>
<text x="1849.2" y="356.9">1.08990</text>
<text x="1849.2" y="394.1">1.08853</text>
<text x="1849.2" y="431.4">1.08715</text>
<text x="1849.2" y="468.6">1.08578</text>
<text x="1849.2" y="505.8">1.08440</text>
<text x="1849.2" y="543.1">1.08303</text>
<text x="1849.2" y="580.3">1.08165</text>
<text x="1849.2" y="617.5">1.08027</text>
<text x="1849.2" y="654.8">1.07890</text>
<text x="1849.2" y="692.0">1.07752</text>
<text x="1849.2" y="724.4">1.07615</text>
</g>
<g fill="#3e4a52" font-size="12" text-anchor="middle">
<text x="34" y="737.3">01.05.2020</text>
<text x="87.5" y="737.3">12:00</text>
<text x="156.5" y="737.3">07:00</text>
<text x="294.5" y="737.3">01:00</text>
<text x="432.5" y="737.3">19:00</text>
<text x="570.5" y="737.3">13:00</text>
<text x="708.5" y="737.3">07:00</text>
<text x="846.3" y="737.3">01:00</text>
<text x="984.2" y="737.3">19:00</text>
<text x="1122" y="737.3">14:00</text>
<text x="1260" y="737.3">08:00</text>
<text x="1397.8" y="737.3">02:00</text>
<text x="1535.6" y="737.3">20:00</text>
<text x="1673.5" y="737.3">14:00</text>
</g>
<rect x="1750" y="344" width="48" height="15" fill="#05b07a"/>
<text x="1772.4" y="354.2" fill="#fff" font-size="9.6" text-anchor="middle">1.09000</text>
<rect x="1750" y="534" width="48" height="15" fill="#05b07a"/>
<text x="1772.4" y="544.2" fill="#fff" font-size="9.6" text-anchor="middle">1.08300</text>
<path d="M1793.6,411.5 L1802.2,403 L1854,403 L1854,420 L1802.2,420 Z" fill="#86929a"/>
<text transform="translate(1828.2,416) scale(0.935,1)" x="0" y="0" fill="#fff" font-size="12.5" font-weight="bold" text-anchor="middle">1.08776</text>
<text x="20" y="26" fill="#45525c" font-size="10" font-weight="bold">EURUSD</text>
<text x="72.4" y="25.2" fill="#7f92a2" font-size="8.4" font-weight="bold">FX</text>
<path d="M89,19.1 L97,19.1 L93,23.5 Z" fill="#bcc1c5"/>
<rect x="129.5" y="13.5" width="34.8" height="17" rx="3" ry="3" fill="#fff" stroke="#e2e2e2" stroke-width="1"/>
<text x="134.4" y="25.9" fill="#5a6369" font-size="9.3">M30</text>
<path d="M152.9,21 L161,21 L156.95,25.1 Z" fill="#bcc1c5"/>
</svg></body></html>
